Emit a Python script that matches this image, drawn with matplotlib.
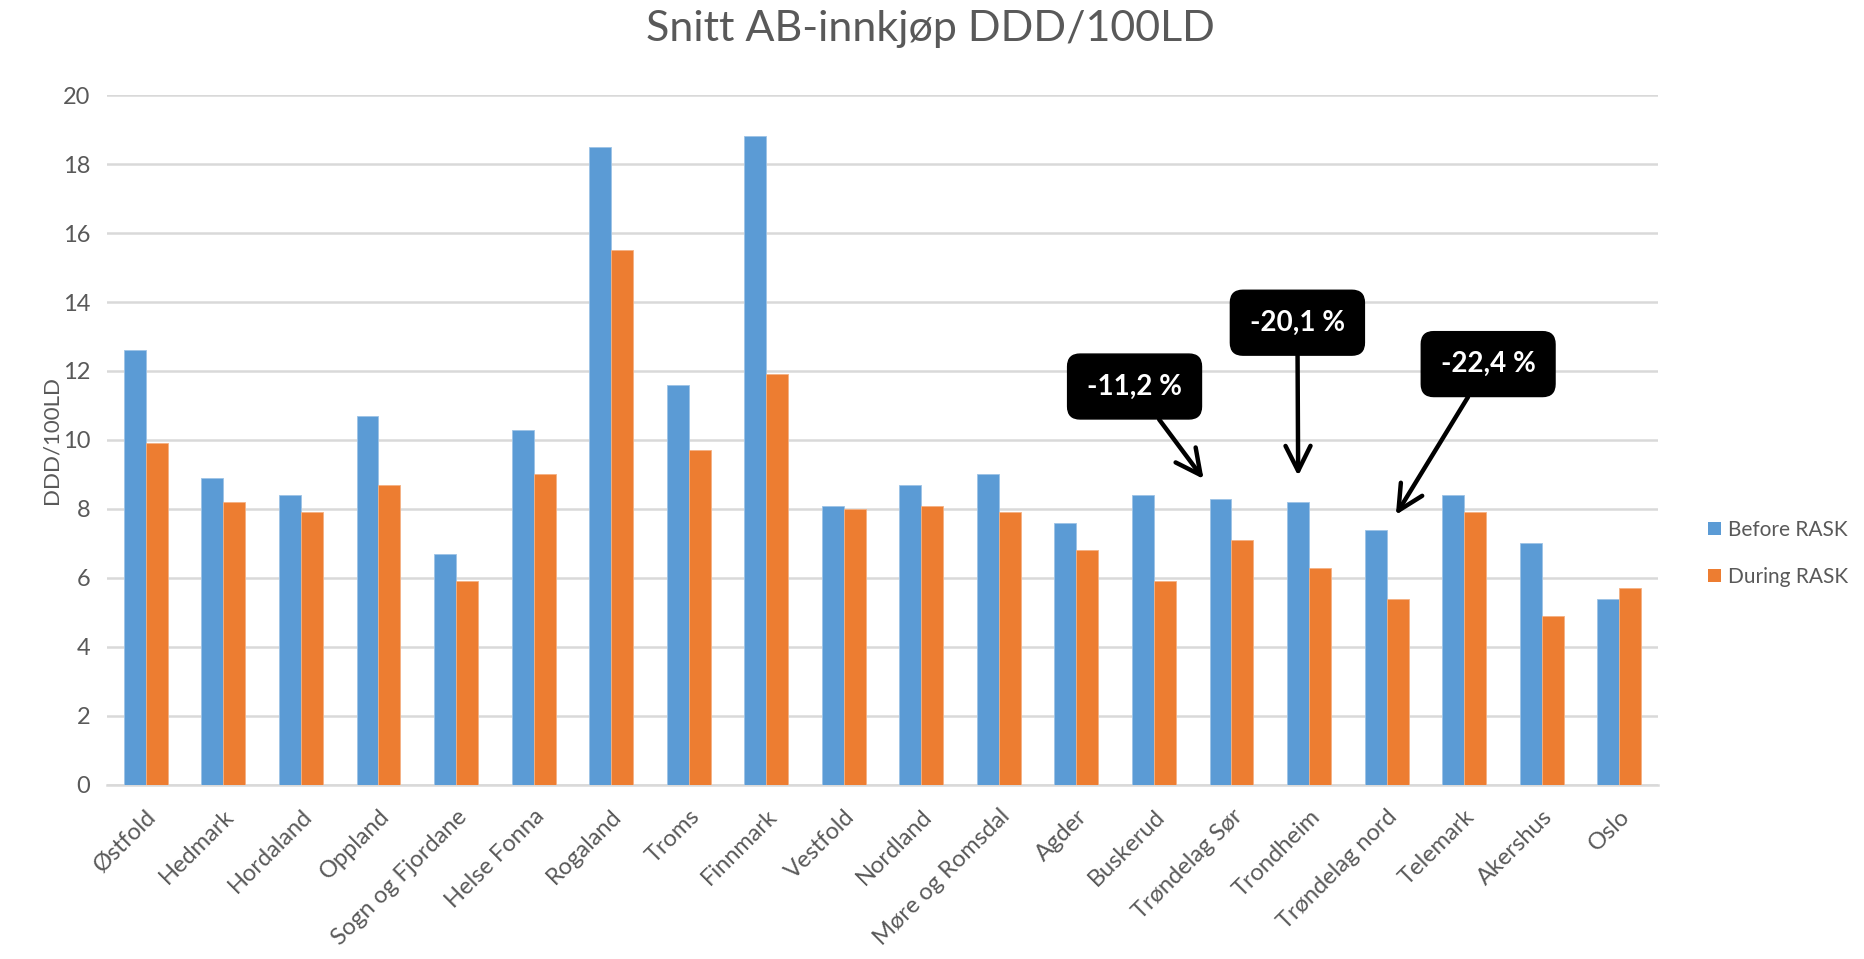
import numpy as np
import matplotlib.pyplot as plt
from matplotlib.patches import Patch

#---------------------------------------------------------------
# data
#---------------------------------------------------------------
regions = ['Østfold', 'Hedmark', 'Hordaland', 'Oppland', 'Sogn og Fjordane',
           'Helse Fonna', 'Rogaland', 'Troms', 'Finnmark', 'Vestfold',
           'Nordland', 'Møre og Romsdal', 'Agder', 'Buskerud', 'Trøndelag Sør',
           'Trondheim', 'Trøndelag nord', 'Telemark', 'Akershus', 'Oslo']
before_rask = [12.6, 8.9, 8.4, 10.7, 6.7, 10.3, 18.5, 11.6, 18.8, 8.1,
               8.7, 9.0, 7.6, 8.4, 8.3, 8.2, 7.4, 8.4, 7.0, 5.4]
during_rask = [9.9, 8.2, 7.9, 8.7, 5.9, 9.0, 15.5, 9.7, 11.9, 8.0,
               8.1, 7.9, 6.8, 5.9, 7.1, 6.3, 5.4, 7.9, 4.9, 5.7]
series_names = ['Before RASK', 'During RASK']

# callouts: text, arrow tip (x index, value), box centre
callout_text = ['-11,2 %', '-20,1 %', '-22,4 %']
callout_tip = [(13.64, 8.87), (14.86, 8.96), (16.12, 7.83)]
callout_box = [(12.75, 11.55), (14.85, 13.4), (17.31, 12.2)]

#---------------------------------------------------------------
# plot
#---------------------------------------------------------------
plt.rcParams['font.family'] = ['Lato', 'DejaVu Sans']
blue = '#5B9BD5'
orange = '#ED7D31'
grey_txt = '#595959'
grid_col = '#D9D9D9'

fig = plt.figure(figsize=(18.65, 9.59), dpi=100)
ax = fig.add_axes([0.0574, 0.1815, 0.8316, 0.7194])

x = np.arange(len(regions))
w = 0.283
ax.bar(x - w/2, before_rask, width=w, color=blue, edgecolor='#9DC3E6', linewidth=0.6, zorder=3)
ax.bar(x + w/2, during_rask, width=w, color=orange, edgecolor='#F4B183', linewidth=0.6, zorder=3)

ax.set_xlim(-0.5, len(regions) - 0.5)
ax.set_ylim(0, 20)
ax.set_yticks(np.arange(0, 21, 2))
ax.yaxis.grid(True, color=grid_col, linewidth=1.8, zorder=0)
ax.set_axisbelow(True)
for s in ['top', 'right', 'left']:
  ax.spines[s].set_visible(False)
ax.spines['bottom'].set_color(grid_col)
ax.spines['bottom'].set_linewidth(1.8)
ax.tick_params(axis='both', length=0, colors=grey_txt)
ax.tick_params(axis='y', pad=12, labelsize=17)
ax.tick_params(axis='x', pad=15, labelsize=17)

ax.set_xticks(x)
ax.set_xticklabels(regions, rotation=45, ha='right', rotation_mode='anchor')
ax.set_ylabel('DDD/100LD', fontsize=16, color=grey_txt, labelpad=1)

fig.suptitle('Snitt AB-innkjøp DDD/100LD', fontsize=31, color=grey_txt, x=0.499, y=0.99, va='top')

# callout boxes with arrows
for txt, tip, box in zip(callout_text, callout_tip, callout_box):
  ax.annotate(txt, xy=tip, xytext=box, ha='center', va='center',
              fontsize=20, fontweight='bold', color='white', zorder=5,
              bbox=dict(boxstyle='round,pad=0.7,rounding_size=0.45', fc='black', ec='black'),
              arrowprops=dict(arrowstyle='->,head_length=0.9,head_width=0.45', color='black',
                              lw=3.2, shrinkA=0, shrinkB=0))

handles = [Patch(facecolor=blue), Patch(facecolor=orange)]
fig.legend(handles, series_names, loc='center left', bbox_to_anchor=(0.906, 0.423),
           frameon=False, fontsize=15, labelcolor=grey_txt, handlelength=0.6,
           handleheight=0.6, handletextpad=0.35, labelspacing=1.3)

fig.savefig('out.png', dpi=100)
